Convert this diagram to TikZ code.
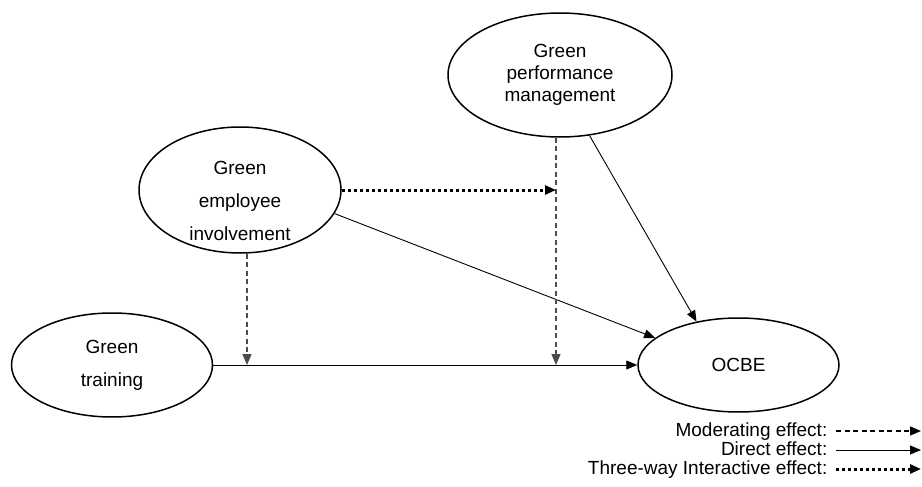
\documentclass[tikz,border=0pt]{standalone}
\usepackage{fontspec}
\setmainfont{Liberation Sans}
\usepackage{tikz}
\usetikzlibrary{shapes.geometric,arrows.meta}

\begin{document}
\begin{tikzpicture}[x=1pt,y=-1pt,
	every node/.style={font=\fontsize{19}{22}\selectfont,align=center},
	construct/.style={ellipse,draw,line width=1.5pt,inner sep=-12pt},
	legendtext/.style={anchor=east,inner sep=0.5pt,text height=13.5pt,text depth=3.5pt},
	direct/.style={-{Triangle[length=11pt,width=9pt]},line width=0.9pt},
	moderating/.style={-{Triangle[length=11pt,width=9pt]},line width=1.3pt,black!70,dash pattern=on 5pt off 3.5pt},
	threeway/.style={-{Triangle[length=11pt,width=9pt]},line width=3pt,dash pattern=on 3pt off 3pt}]

	\def\gap{11pt}

	\useasboundingbox (0,0) rectangle (922,487);

	\node[construct,minimum width=224pt,minimum height=124pt] (gpm) at (560,75) {Green\\performance\\management};
	\node[construct,minimum width=202pt,minimum height=126pt] (gei) at (240,190) {};
	\node (geitext) at (240,201) {Green\\[\gap]employee\\[\gap]involvement};
	\node[construct,minimum width=201pt,minimum height=104pt] (gt) at (112,365) {Green\\[\gap]training};
	\node[construct,minimum width=201pt,minimum height=94pt] (ocbe) at (738.5,365) {OCBE};

	\coordinate (m1) at (247,365);
	\coordinate (m2) at (556,365);

	\path[direct] (gt) edge (ocbe);
	\path[direct] (gei.-14) edge (ocbe.162);
	\path[direct] (gpm.-64) edge (ocbe.134);

	\path[moderating] (m1 |- gei.south) edge (m1);
	\path[moderating] (m2 |- gpm.south) edge (m2);
	\path[threeway] (gei.east) edge (m2 |- gei.east);

	\node[legendtext] (modlabel) at (828,431) {Moderating effect:};
	\node[legendtext] (dirlabel) at (828,450) {Direct effect:};
	\node[legendtext] (intlabel) at (828,469) {Three-way Interactive effect:};

	\coordinate (moda) at (836,431);
	\coordinate (modb) at (921,431);
	\coordinate (dira) at (836,450);
	\coordinate (dirb) at (921,450);
	\coordinate (inta) at (836,469);
	\coordinate (intb) at (921,469);

	\path[moderating,black] (moda) edge (modb);
	\path[direct] (dira) edge (dirb);
	\path[threeway] (inta) edge (intb);

\end{tikzpicture}
\end{document}
